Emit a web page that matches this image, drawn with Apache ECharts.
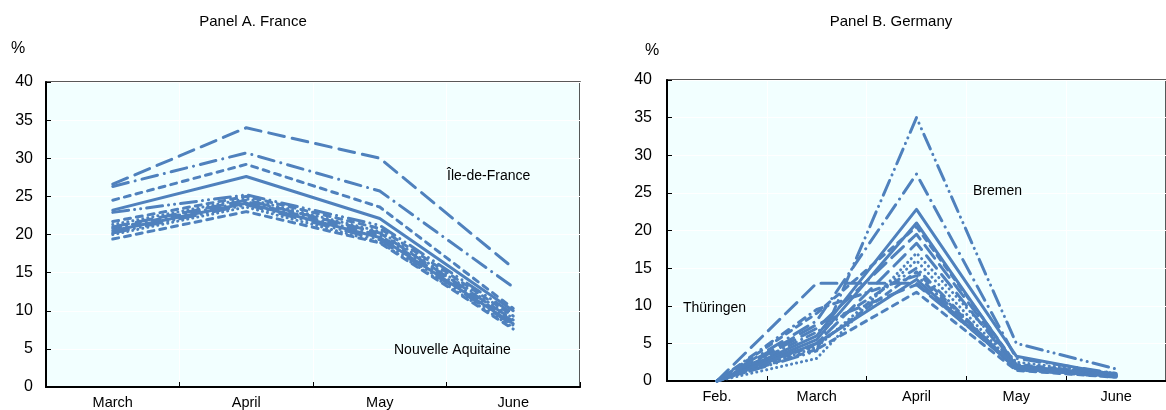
<!DOCTYPE html>
<html>
<head>
<meta charset="utf-8">
<script src="https://cdn.jsdelivr.net/npm/echarts@6/dist/echarts.min.js"></script>
<style>
  html, body { margin: 0; padding: 0; background: #fff; }
  #chart { width: 1166px; height: 410px; }
</style>
</head>
<body>
<div id="chart"></div>
<script>
// Categories
const franceMonths = ['March', 'April', 'May', 'June'];
const germanyMonths = ['Feb.', 'March', 'April', 'May', 'June'];

// Value axis (%)
const yMin = 0;
const yMax = 40;
const yStep = 5;

// Panel A. France – one array per region, values for March..June
const frIleDeFrance     = [26.6, 34.0, 30.0, 15.6];
const fr02              = [26.3, 30.7, 25.7, 13.1];
const fr03              = [24.5, 29.2, 23.6, 10.3];
const fr04              = [23.2, 27.6, 22.1, 10.0];
const fr05              = [22.9, 25.2, 21.2, 9.6];
const fr06              = [21.7, 25.0, 20.8, 9.3];
const fr07              = [21.3, 24.7, 20.4, 9.0];
const fr08              = [21.0, 24.5, 20.2, 8.8];
const fr09              = [20.8, 24.3, 19.9, 8.6];
const fr10              = [20.5, 24.1, 19.6, 8.3];
const fr11              = [20.2, 23.9, 19.3, 8.1];
const fr12              = [20.0, 23.6, 19.0, 7.8];
const frNouvelleAquitaine = [19.4, 23.0, 18.9, 7.6];

// Panel B. Germany – one array per Land, values for Feb..June
const deBremen = [0, 4.0, 35.0, 5.0, 1.6];
const de02     = [0, 8.0, 27.5, 3.0, 1.0];
const de03     = [0, 6.0, 22.8, 3.3, 0.8];
const de04     = [0, 5.5, 21.0, 2.0, 0.7];
const de05     = [0, 13.0, 13.0, 1.8, 0.6];
const de06     = [0, 9.0, 20.5, 2.2, 0.9];
const de07     = [0, 7.0, 19.5, 2.0, 0.8];
const de08     = [0, 5.0, 18.3, 1.8, 0.7];
const de09     = [0, 3.0, 17.0, 2.5, 1.0];
const de10     = [0, 4.5, 16.0, 1.8, 0.6];
const de11     = [0, 6.5, 15.0, 1.5, 0.5];
const de12     = [0, 4.8, 14.5, 1.7, 0.9];
const de13     = [0, 5.0, 13.5, 1.6, 0.6];
const de14     = [0, 7.5, 12.8, 2.0, 1.0];
const de15     = [0, 4.2, 11.8, 1.4, 0.5];
const de16     = [0, 9.5, 14.0, 1.9, 0.7];

const franceSeries = [
  ['Île-de-France', frIleDeFrance], ['fr02', fr02], ['fr03', fr03], ['fr04', fr04],
  ['fr05', fr05], ['fr06', fr06], ['fr07', fr07], ['fr08', fr08], ['fr09', fr09],
  ['fr10', fr10], ['fr11', fr11], ['fr12', fr12], ['Nouvelle Aquitaine', frNouvelleAquitaine]
];
const germanySeries = [
  ['Bremen', deBremen], ['de02', de02], ['de03', de03], ['de04', de04], ['de05', de05],
  ['de06', de06], ['de07', de07], ['de08', de08], ['de09', de09], ['de10', de10],
  ['de11', de11], ['de12', de12], ['de13', de13], ['de14', de14], ['de15', de15], ['de16', de16]
];

// Dash patterns cycled over the lines
const DASH = {
  solid: 'solid',
  longDash: [16, 8],
  dash: [6, 6],
  dot: [0.1, 5],
  dashDot: [8, 6, 0.1, 6],
  longDashDot: [16, 7, 0.1, 7],
  longDashDotDot: [16, 6, 0.1, 6, 0.1, 6]
};
const franceStyles = ['longDash', 'longDashDot', 'dash', 'solid', 'longDashDotDot', 'dash',
  'dot', 'longDash', 'dashDot', 'solid', 'longDashDotDot', 'dot', 'dash'];
const germanyStyles = ['longDashDotDot', 'longDashDot', 'solid', 'solid', 'longDash', 'dash',
  'longDash', 'longDash', 'dot', 'dot', 'dashDot', 'dash', 'solid', 'longDash', 'dash', 'dashDot'];

const LINE_COLOR = '#4f81bd';
const FONT = '"Liberation Sans", Arial, sans-serif';

function makeSeries(list, styles, axisIndex) {
  return list.map(([name, values], i) => ({
    name: name,
    type: 'line',
    xAxisIndex: axisIndex,
    yAxisIndex: axisIndex,
    data: values,
    symbol: 'none',
    silent: true,
    animation: false,
    lineStyle: {
      color: LINE_COLOR,
      width: 3,
      type: DASH[styles[i % styles.length]],
      cap: 'round',
      join: 'round'
    }
  }));
}

function xAxisFor(cats, gridIndex) {
  return {
    type: 'category',
    gridIndex: gridIndex,
    data: cats,
    boundaryGap: true,
    axisLine: { lineStyle: { color: '#000', width: 2 } },
    axisTick: { show: true, inside: true, length: 5, interval: 0, lineStyle: { color: '#000', width: 1 } },
    axisLabel: { color: '#000', fontSize: 14.5, fontFamily: FONT, margin: 8, interval: 0 },
    splitLine: { show: true, interval: 0, lineStyle: { color: '#ffffff', width: 1 } }
  };
}

function yAxisFor(gridIndex, margin) {
  return {
    type: 'value',
    gridIndex: gridIndex,
    min: yMin,
    max: yMax,
    interval: yStep,
    axisLine: { show: true, lineStyle: { color: '#000', width: 2 } },
    axisTick: { show: true, inside: true, length: 5, lineStyle: { color: '#000', width: 1 } },
    axisLabel: { color: '#000', fontSize: 16, fontFamily: FONT, margin: margin },
    splitLine: { show: true, lineStyle: { color: '#ffffff', width: 1 } }
  };
}

function label(text, left, top, size) {
  return {
    type: 'text', left: left, top: top, silent: true, z: 100,
    style: { text: text, fill: '#000', font: (size || 14) + 'px ' + FONT }
  };
}

const chart = echarts.init(document.getElementById('chart'), null, { renderer: 'canvas' });
chart.setOption({
  animation: false,
  backgroundColor: '#ffffff',
  title: [
    { text: 'Panel A. France', left: 248, top: 9, textAlign: 'center',
      textStyle: { fontSize: 15, fontWeight: 'normal', color: '#000', fontFamily: FONT } },
    { text: 'Panel B. Germany', left: 886, top: 9, textAlign: 'center',
      textStyle: { fontSize: 15, fontWeight: 'normal', color: '#000', fontFamily: FONT } }
  ],
  grid: [
    { left: 46, top: 82, width: 534, height: 305, show: true, backgroundColor: '#f2ffff',
      borderColor: '#222', borderWidth: 1.5, containLabel: false },
    { left: 667, top: 80, width: 501, height: 301, show: true, backgroundColor: '#f2ffff',
      borderColor: '#222', borderWidth: 1.5, containLabel: false }
  ],
  xAxis: [xAxisFor(franceMonths, 0), xAxisFor(germanyMonths, 1)],
  yAxis: [yAxisFor(0, 13), yAxisFor(1, 15)],
  graphic: [
    label('%', 11, 41, 16),
    label('%', 645, 43, 16),
    label('Île-de-France', 447, 169),
    label('Nouvelle Aquitaine', 394, 343),
    label('Bremen', 973, 184),
    label('Thüringen', 683, 301)
  ],
  series: makeSeries(franceSeries, franceStyles, 0).concat(makeSeries(germanySeries, germanyStyles, 1))
});
</script>
</body>
</html>
